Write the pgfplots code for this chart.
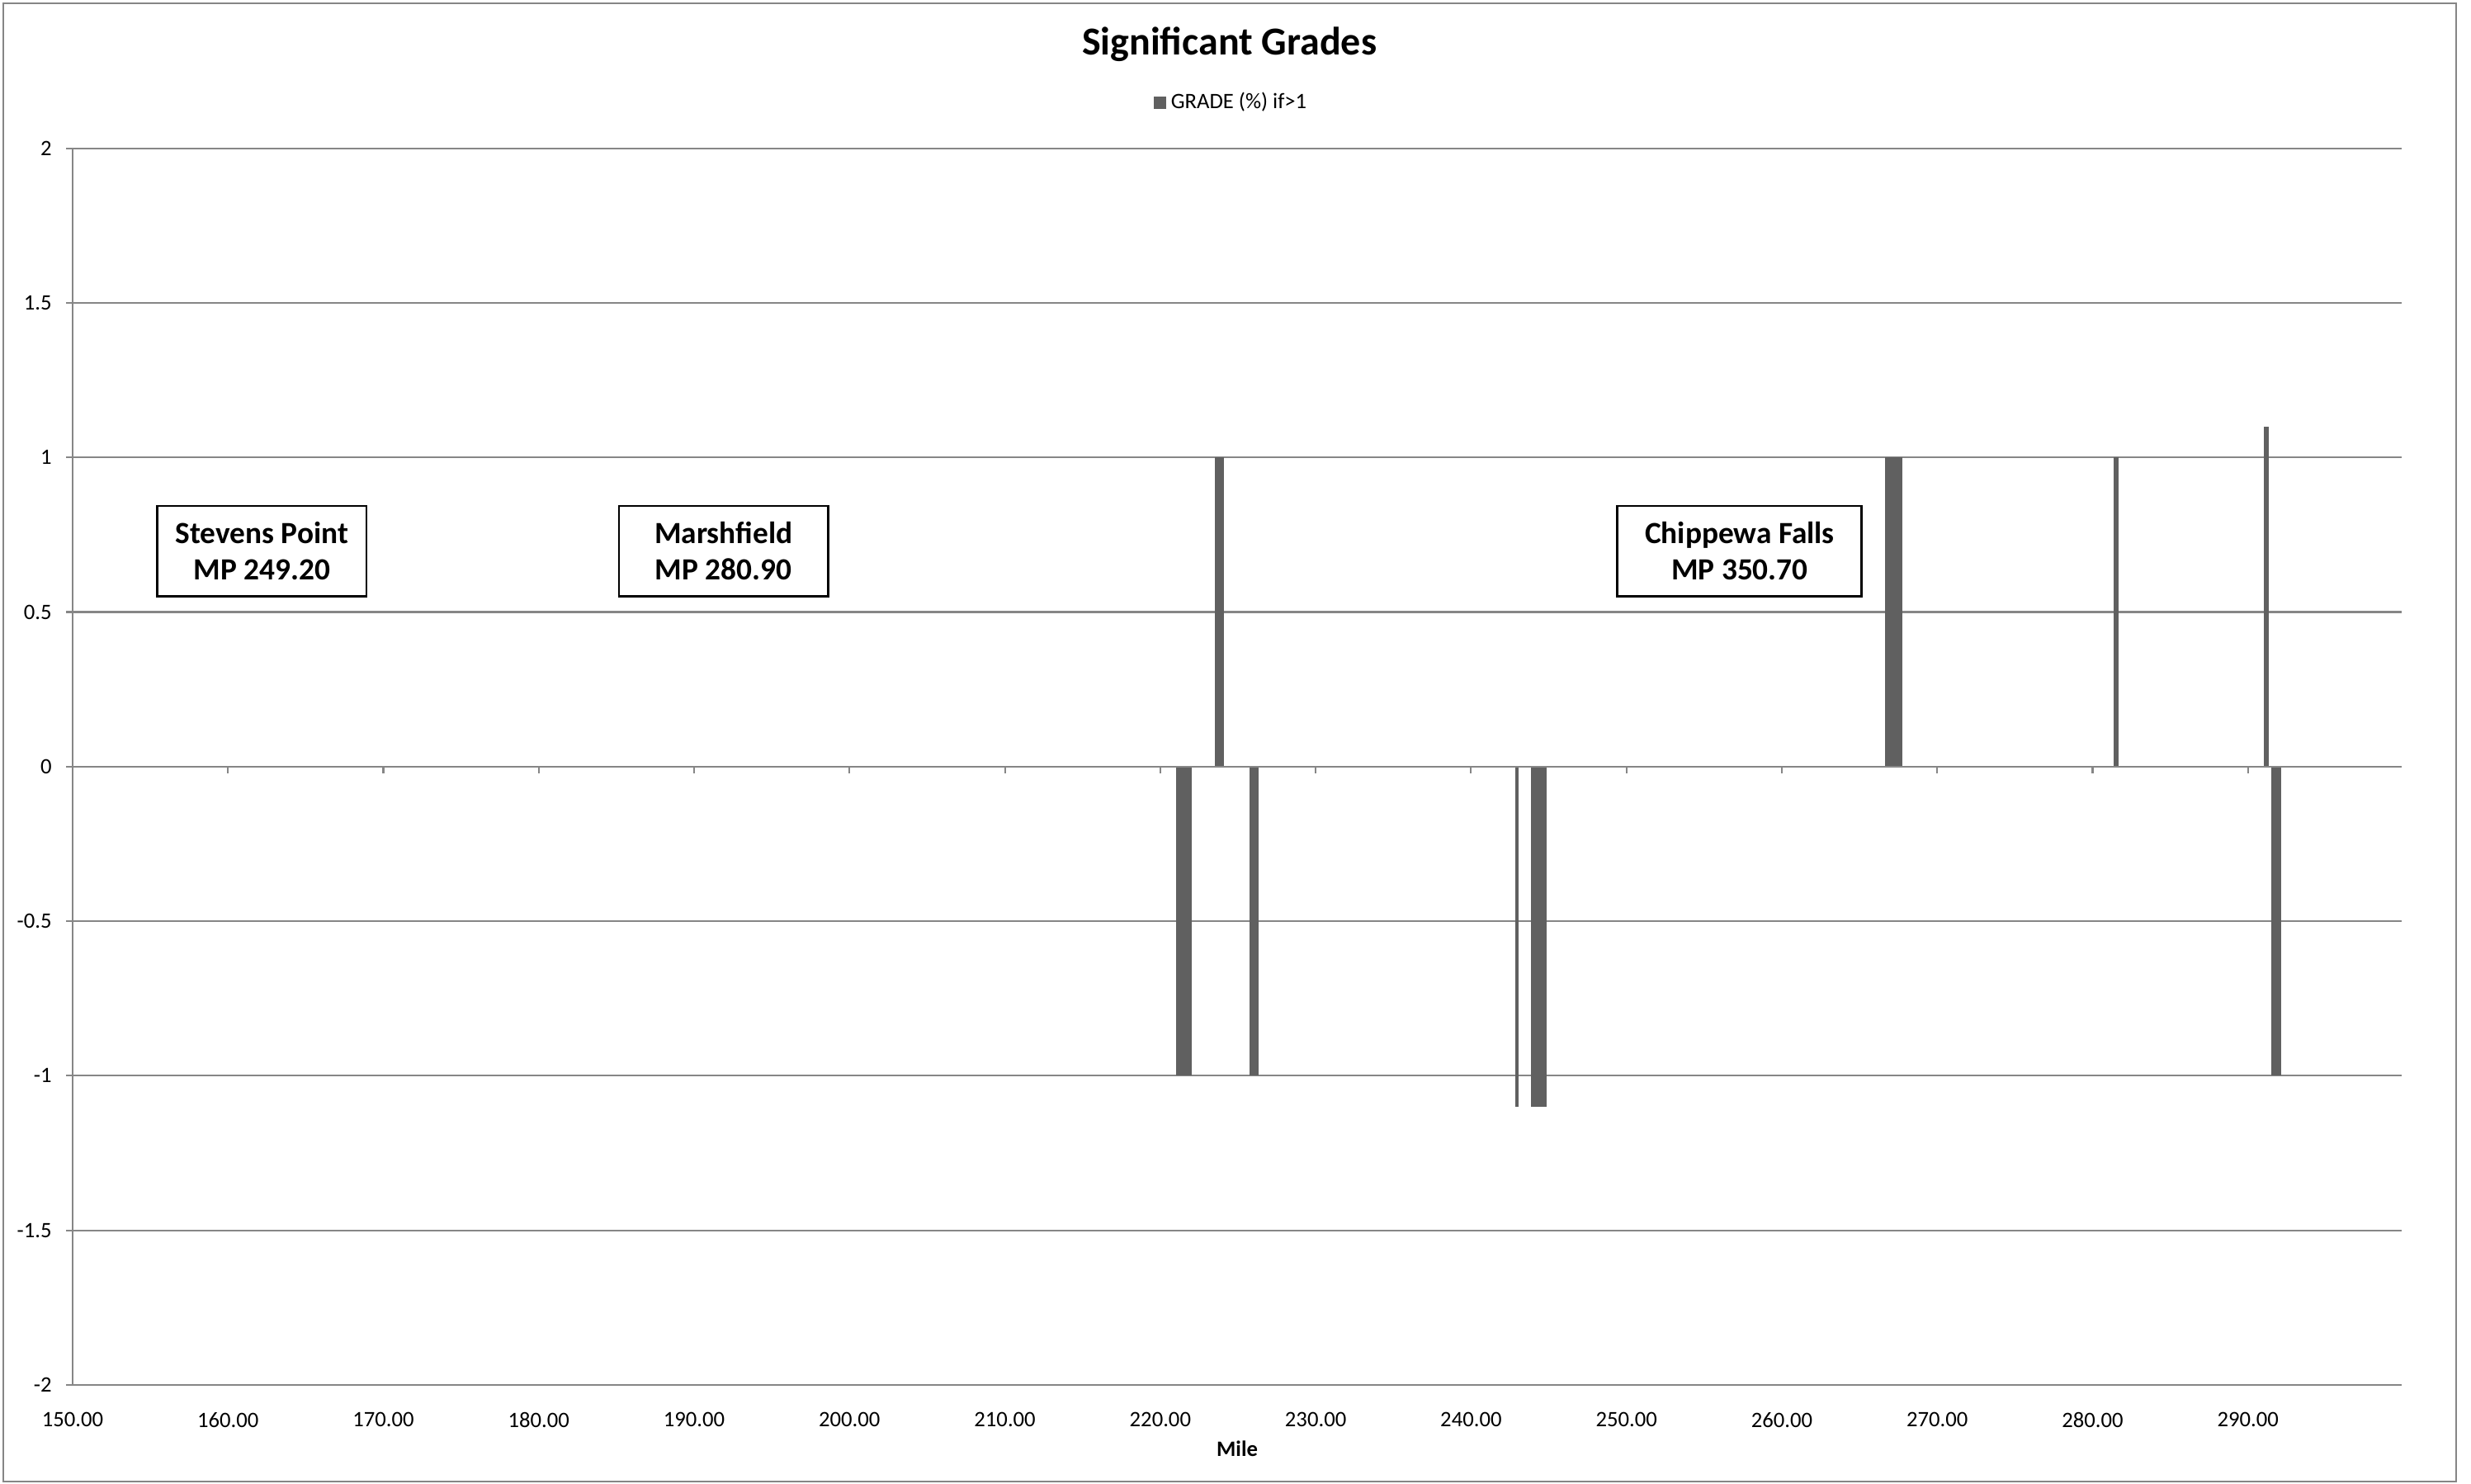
\documentclass[border=0pt]{standalone}
\usepackage{pgfplots}
\pgfplotsset{compat=1.18}
\usepackage{fontspec}
\setmainfont{Carlito}
\definecolor{gridgray}{RGB}{134,134,134}
\definecolor{barfill}{RGB}{96,96,96}
\begin{document}
\begin{tikzpicture}
\begin{axis}[
  scale only axis,
  width=1058.3pt, height=561.9pt,
  xmin=150, xmax=299.9,
  ymin=-2, ymax=2,
  axis lines*=left,
  axis line style={draw=gridgray, line width=0.8pt},
  xtick={150,160,...,290},
  ytick={-2,-1.5,-1,-0.5,0,0.5,1,1.5,2},
  ymajorgrids,
  grid style={draw=gridgray, line width=0.8pt},
  tick align=outside,
  major tick length=3pt,
  xtick style={draw=none},
  ytick style={draw=gridgray, line width=0.8pt},
  ticklabel style={font=\fontsize{10}{12}\selectfont},
  /pgf/number format/assume math mode=true,
  x tick label style={/pgf/number format/fixed, /pgf/number format/fixed zerofill, /pgf/number format/precision=2, yshift=-6pt},
  y tick label style={/pgf/number format/fixed, xshift=-3pt},
  xlabel={Mile},
  xlabel style={font=\bfseries\fontsize{10}{12}\selectfont, at={(axis description cs:0.5,-0.0515)}, anchor=center},
  legend style={at={(0.498,1.037)}, anchor=center, draw=none, fill=none, font=\fontsize{10}{12}\selectfont},
  legend image code/.code={\fill[barfill] (0pt,-2.85pt) rectangle (5.7pt,2.85pt);},
]
\addplot[ybar, bar width=1.0, bar shift=0pt, fill=barfill, draw=none] coordinates {(221.5,-1)};
\addlegendentry{GRADE (\%) if>1}
\addplot[ybar, bar width=0.55, bar shift=0pt, fill=barfill, draw=none, forget plot] coordinates {(223.8,1)};
\addplot[ybar, bar width=0.6, bar shift=0pt, fill=barfill, draw=none, forget plot] coordinates {(226.05,-1)};
\addplot[ybar, bar width=0.21, bar shift=0pt, fill=barfill, draw=none, forget plot] coordinates {(242.94,-1.1)};
\addplot[ybar, bar width=1.0, bar shift=0pt, fill=barfill, draw=none, forget plot] coordinates {(244.35,-1.1)};
\addplot[ybar, bar width=1.08, bar shift=0pt, fill=barfill, draw=none, forget plot] coordinates {(267.2,1)};
\addplot[ybar, bar width=0.32, bar shift=0pt, fill=barfill, draw=none, forget plot] coordinates {(281.5,1)};
\addplot[ybar, bar width=0.32, bar shift=0pt, fill=barfill, draw=none, forget plot] coordinates {(291.2,1.1)};
\addplot[ybar, bar width=0.65, bar shift=0pt, fill=barfill, draw=none, forget plot] coordinates {(291.8,-1)};
\draw[gridgray, line width=0.8pt] (axis cs:150,0) -- (axis cs:299.9,0);
\pgfplotsinvokeforeach{150,160,...,290}{\draw[gridgray, line width=0.8pt] (axis cs:#1,0) -- ([yshift=-3pt]axis cs:#1,0);}
\node[draw=black, line width=1.1pt, fill=white, align=center, font=\bfseries\fontsize{14}{16.5}\selectfont, minimum width=95pt, minimum height=41pt, inner sep=0pt] at (axis cs:162.18,0.697) {Stevens Point\\MP 249.20};
\node[draw=black, line width=1.1pt, fill=white, align=center, font=\bfseries\fontsize{14}{16.5}\selectfont, minimum width=95pt, minimum height=41pt, inner sep=0pt] at (axis cs:191.89,0.697) {Marshfield\\MP 280.90};
\node[draw=black, line width=1.1pt, fill=white, align=center, font=\bfseries\fontsize{14}{16.5}\selectfont, minimum width=111pt, minimum height=41pt, inner sep=0pt] at (axis cs:257.29,0.697) {Chippewa Falls\\MP 350.70};
\end{axis}
\node[font=\bfseries\fontsize{18}{21}\selectfont] at (525.6pt,609.2pt) {Significant Grades};
\draw[gridgray, line width=0.75pt] (-31.5pt,-43.9pt) rectangle (1083pt,627.75pt);
\pgfresetboundingbox
\path[use as bounding box] (-33pt,-45pt) rectangle (1089.75pt,629.25pt);
\end{tikzpicture}
\end{document}
